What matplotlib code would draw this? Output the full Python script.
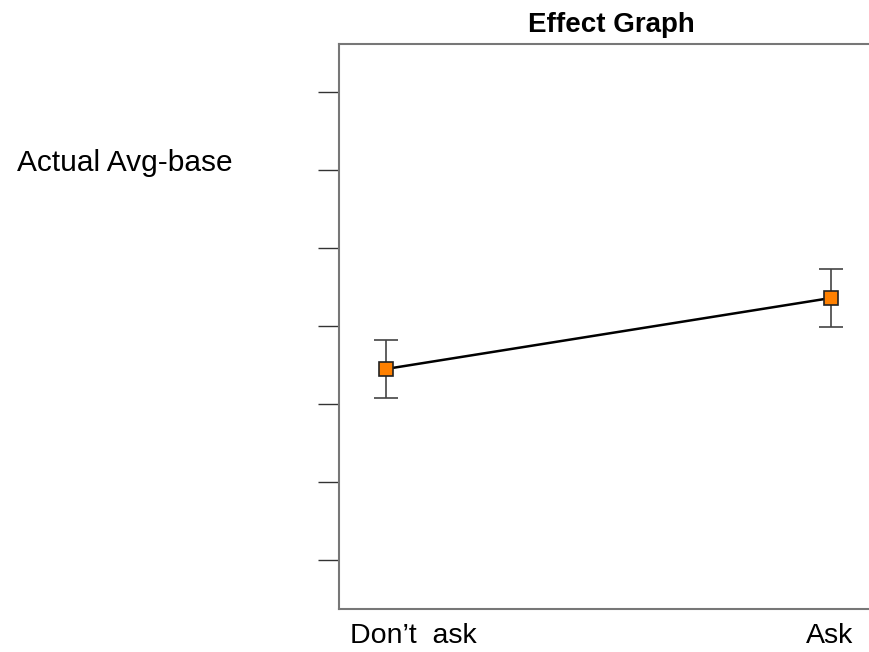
import numpy as np
from matplotlib import pyplot as plt

plt.rcParams['font.family'] = ['Liberation Sans', 'DejaVu Sans']

# data
groups = ["Don\u2019t  ask", "Ask"]
means = [2.449, 3.359]
errs = [0.372, 0.372]
yticks = [0, 1, 2, 3, 4, 5, 6]

fig = plt.figure(figsize=(8.7, 6.52), dpi=100)
ax = fig.add_axes([339 / 870, 43 / 652, 600 / 870, 565 / 652])

x = np.arange(len(groups))
ax.errorbar(x, means, yerr=errs, fmt='none', ecolor='#444444', elinewidth=1.2,
            capsize=8.5, capthick=1.2, zorder=2)
ax.plot(x, means, '-', color='black', lw=1.8, zorder=3)
ax.plot(x, means, 's', ms=9.5, mfc='#ff8000', mec='#222222', mew=1.2, zorder=4)

ax.set_xlim(-0.1056, -0.1056 + 600 / 445)
ax.set_ylim(-0.628, 6.615)
ax.set_yticks(yticks)
ax.set_yticklabels([])
ax.set_xticks([])
ax.tick_params(axis='y', direction='out', length=15, width=1, color='#333333')

for s in ['left', 'top', 'bottom']:
    ax.spines[s].set_color('#777777')
    ax.spines[s].set_linewidth(1.5)
ax.spines['right'].set_visible(False)

fig.text(611 / 870, 1 - 25 / 652, "Effect Graph", fontsize=20, fontweight='bold',
         va='center', ha='center')

fig.text(17 / 870, 1 - 163 / 652, "Actual Avg-base", fontsize=21.5, va='center', ha='left')
fig.text(413 / 870, 1 - 636 / 652, groups[0], fontsize=20.5, va='center', ha='center')
fig.text(830 / 870, 1 - 636 / 652, groups[1], fontsize=20.5, va='center', ha='center')

fig.savefig('out.png', dpi=100)
